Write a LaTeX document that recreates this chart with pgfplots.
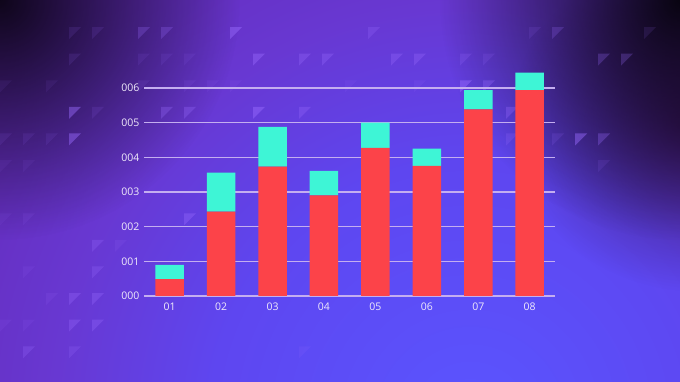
\documentclass[border=0pt]{standalone}
\usepackage{pgfplots}
\pgfplotsset{compat=1.18}
\usepackage{fontspec}
\setmainfont{Open Sans}
\usetikzlibrary{fadings}
\definecolor{cA}{HTML}{5A55FF}
\definecolor{cB}{HTML}{5E46F0}
\definecolor{cC}{HTML}{6838D2}
\definecolor{cD}{HTML}{6428B4}
\definecolor{cE}{HTML}{521A80}
\definecolor{cF}{HTML}{3C1052}
\definecolor{cG}{HTML}{1A0E1C}
\definecolor{darkmag}{HTML}{30093C}
\definecolor{barred}{HTML}{FC4349}
\definecolor{barcyan}{HTML}{3EF5D6}
\definecolor{gridc}{HTML}{C4AEF0}
\definecolor{labc}{HTML}{F0EAFA}
\definecolor{tric}{HTML}{9A6CFF}
\pgfdeclareradialshading{bgshade}{\pgfpointorigin}{color(0bp)=(cA); color(10bp)=(cB); color(16bp)=(cC); color(24bp)=(cD); color(32bp)=(cE); color(40bp)=(cF); color(50bp)=(cG)}
\tikzfading[name=fadeout, inner color=transparent!0, outer color=transparent!100]
\pgfplotstableread{
x red cyan
0 0.49 0.41
1 2.43 1.13
2 3.73 1.15
3 2.90 0.71
4 4.27 0.73
5 3.75 0.50
6 5.38 0.56
7 5.94 0.50
}\data
\begin{document}
\begin{tikzpicture}
\useasboundingbox (0pt,0pt) rectangle (680pt,382pt);
\begin{scope}[x=1pt,y=1pt]
\clip (0,0) rectangle (680,382);
\shade[shading=bgshade] (470,-40) circle (650);
\fill[darkmag, path fading=fadeout, fill opacity=0.75] (700,260) ellipse (190 and 170);
\fill[black, path fading=fadeout, fill opacity=0.85] (0,382) circle (240);
\fill[black, path fading=fadeout, fill opacity=0.9] (680,382) circle (240);
% decorative triangles (col, row, opacity)
\foreach \c/\r/\o in {
6/1/0.25,7/1/0.25,10/1/0.45,3/1/0.12,4/1/0.12,16/1/0.25,23/1/0.12,24/1/0.22,28/1/0.12,
3/2/0.12,6/2/0.1,7/2/0.1,8/2/0.1,11/2/0.4,13/2/0.3,14/2/0.3,17/2/0.3,18/2/0.3,20/2/0.2,21/2/0.15,26/2/0.25,27/2/0.25,
0/3/0.08,2/3/0.08,6/3/0.1,8/3/0.1,9/3/0.1,10/3/0.1,15/3/0.1,18/3/0.12,20/3/0.45,21/3/0.3,
3/4/0.45,4/4/0.12,7/4/0.3,8/4/0.3,11/4/0.45,13/4/0.3,22/4/0.3,
0/5/0.1,1/5/0.1,2/5/0.1,3/5/0.45,22/5/0.2,24/5/0.15,25/5/0.45,26/5/0.3,
0/6/0.08,1/6/0.08,26/6/0.12,
0/8/0.08,1/8/0.1,8/8/0.35,
4/9/0.25,5/9/0.12,
1/10/0.1,4/10/0.25,
2/11/0.12,3/11/0.3,4/11/0.3,
0/12/0.1,1/12/0.1,3/12/0.3,4/12/0.3,
1/13/0.25,3/13/0.2,13/13/0.12}
{\fill[tric, fill opacity=\o] (23*\c, 382-26.6*\r-0.5) -- ++(12,0) -- ++(-12,-12) -- cycle;}
\end{scope}
\begin{axis}[
  at={(144pt,86pt)}, anchor=south west,
  scale only axis, width=411.4pt, height=225.4pt,
  xmin=-0.5, xmax=7.5, ymin=0, ymax=6.5,
  ybar stacked, bar width=28.5pt,
  axis line style={draw=none},
  major tick length=0pt,
  xtick={0,...,7}, xticklabels={01,02,03,04,05,06,07,08},
  ytick={0,...,6}, yticklabels={000,001,002,003,004,005,006},
  ymajorgrids, grid style={gridc, line width=1.3pt},
  ticklabel style={font=\fontsize{10.5}{12}\selectfont, text=labc},
  yticklabel style={xshift=-1pt},
  xticklabel style={yshift=-3pt},
  /pgf/number format/assume math mode=true,
]
\addplot[fill=barred, draw=none] table[x=x, y=red] {\data};
\addplot[fill=barcyan, draw=none] table[x=x, y=cyan] {\data};
\end{axis}
\end{tikzpicture}
\end{document}
